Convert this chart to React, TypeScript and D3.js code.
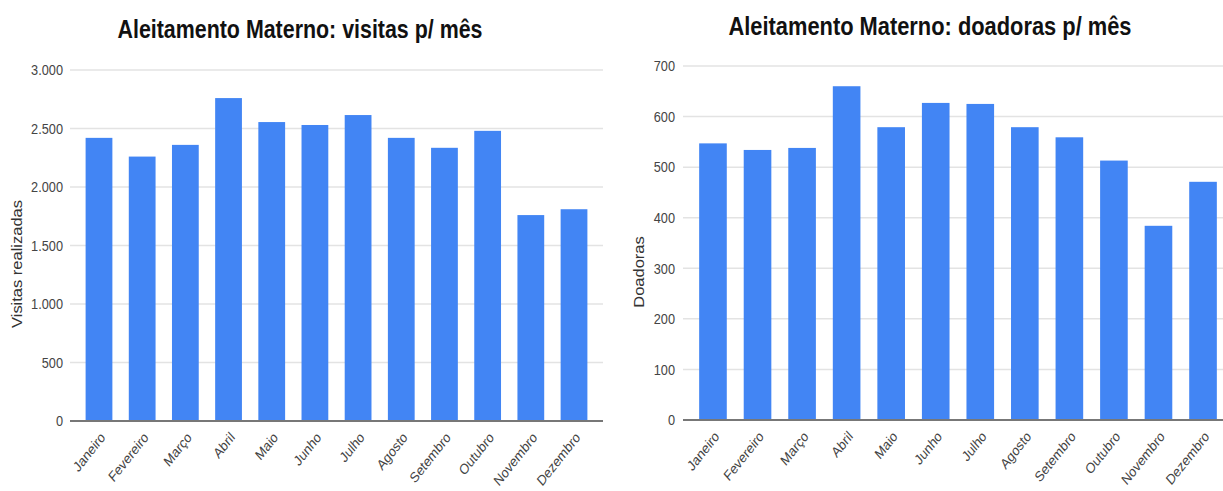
import React from "react";
import * as d3 from "d3";

const months = ["Janeiro","Fevereiro","Março","Abril","Maio","Junho","Julho","Agosto","Setembro","Outubro","Novembro","Dezembro"];
const visitas = [2420, 2260, 2360, 2760, 2555, 2530, 2615, 2420, 2335, 2480, 1760, 1810];
const doadoras = [547, 534, 538, 660, 579, 627, 625, 579, 559, 513, 384, 471];
const visitasTicks = [0, 500, 1000, 1500, 2000, 2500, 3000];
const doadorasTicks = [0, 100, 200, 300, 400, 500, 600, 700];

const FONT = "'Liberation Sans', Arial, sans-serif";
const SX = 0.85;
const BLUE = "#4285F4";

const ptLocale = d3.formatLocale({ decimal: ",", thousands: ".", grouping: [3], currency: ["", ""] });
const fmt = ptLocale.format(",");

type PanelProps = {
  title: string;
  titleX: number;
  titleY: number;
  titleW: number;
  yTitle: string;
  yTitleX: number;
  yTitleY: number;
  values: number[];
  ticks: number[];
  yMax: number;
  gridX0: number;
  gridX1: number;
  bandX0: number;
  bandX1: number;
  y0: number;
  y1: number;
  tickX: number;
};

function Panel(p: PanelProps) {
  const x = d3.scaleBand<string>().domain(months).range([p.bandX0, p.bandX1]).paddingInner(0.38).paddingOuter(0.19);
  const y = d3.scaleLinear().domain([0, p.yMax]).range([p.y0, p.y1]);
  return (
    <g>
      <text
        x={p.titleX - p.titleW / 2}
        y={p.titleY}
        textLength={p.titleW}
        lengthAdjust="spacingAndGlyphs"
        fontFamily={FONT}
        fontWeight="bold"
        fontSize={25}
        fill="#111"
      >
        {p.title}
      </text>
      {p.ticks.map((t) => (
        <g key={t}>
          {t !== 0 && (
            <line x1={p.gridX0} x2={p.gridX1} y1={y(t)} y2={y(t)} stroke="#e3e3e3" strokeWidth={1.5} />
          )}
          <text
            transform={`translate(${p.tickX},${y(t)}) scale(${SX},1)`}
            textAnchor="end"
            dy="0.35em"
            fontFamily={FONT}
            fontSize={15}
            fill="#444"
          >
            {fmt(t)}
          </text>
        </g>
      ))}
      {months.map((m, i) => (
        <rect key={m} x={x(m)} y={y(p.values[i])} width={x.bandwidth()} height={y(0) - y(p.values[i])} fill={BLUE} />
      ))}
      <line x1={p.gridX0} x2={p.gridX1} y1={y(0)} y2={y(0)} stroke="#777" strokeWidth={2} />
      {months.map((m) => {
        const cx = (x(m) as number) + x.bandwidth() / 2;
        return (
          <text
            key={m}
            transform={`translate(${cx + 7},${p.y0 + 17}) scale(${SX},1) rotate(-47)`}
            textAnchor="end"
            fontFamily={FONT}
            fontSize={14.5}
            fill="#444"
          >
            {m}
          </text>
        );
      })}
      <text
        transform={`translate(${p.yTitleX},${p.yTitleY}) scale(${SX},1) rotate(-90)`}
        textAnchor="middle"
        fontFamily={FONT}
        fontSize={16.5}
        fill="#333"
      >
        {p.yTitle}
      </text>
    </g>
  );
}

export default function App() {
  return (
    <svg width={1223} height={491} style={{ position: "absolute", left: 0, top: 0, background: "#fff" }}>
      <rect width={1223} height={491} fill="#fff" />
      <Panel
        title="Aleitamento Materno: visitas p/ mês"
        titleX={300}
        titleY={38}
        titleW={365}
        yTitle="Visitas realizadas"
        yTitleX={22}
        yTitleY={264}
        values={visitas}
        ticks={visitasTicks}
        yMax={3000}
        gridX0={70}
        gridX1={603}
        bandX0={77.4}
        bandX1={595.6}
        y0={421}
        y1={70}
        tickX={63}
      />
      <Panel
        title="Aleitamento Materno: doadoras p/ mês"
        titleX={930}
        titleY={35}
        titleW={403}
        yTitle="Doadoras"
        yTitleX={644}
        yTitleY={272}
        values={doadoras}
        ticks={doadorasTicks}
        yMax={700}
        gridX0={683}
        gridX1={1223}
        bandX0={690.7}
        bandX1={1225.3}
        y0={420}
        y1={66}
        tickX={675}
      />
    </svg>
  );
}
